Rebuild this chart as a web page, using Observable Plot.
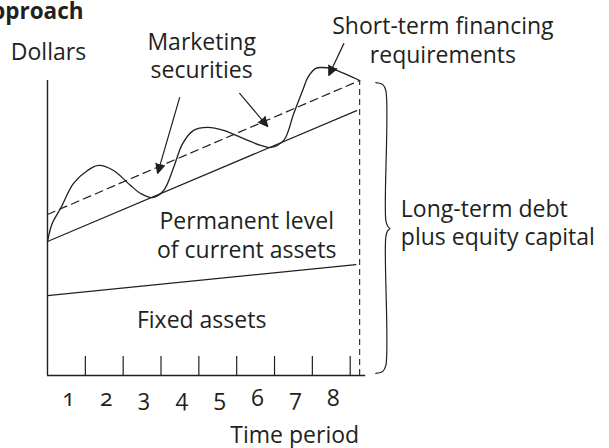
<!DOCTYPE html>
<html>
<head>
<meta charset="utf-8">
<script src="https://cdn.jsdelivr.net/npm/d3@7"></script>
<script src="https://cdn.jsdelivr.net/npm/@observablehq/plot@0.6"></script>
<style>
  html, body { margin: 0; padding: 0; background: white; }
  #chart svg text { font-variant-numeric: oldstyle-nums; font-feature-settings: "onum" 1; }
</style>
</head>
<body>
<div id="chart"></div>
<script>
// ---- data (time period on x, dollars on y, arbitrary units) ----
const periods = [1, 2, 3, 4, 5, 6, 7, 8];
const periodLabels = ["1", "2", "3", "4", "5", "6", "7", "8"];

// fixed assets level (start, end)
const fixedAssets = [{t: 0, v: 27.1}, {t: 8.15, v: 37.6}];
// permanent level of current assets + fixed assets
const permanentAssets = [{t: 0, v: 45.4}, {t: 8.17, v: 89.8}];
// long-term debt plus equity capital level (dashed)
const longTermFinancing = [{t: 0, v: 54.6}, {t: 8.25, v: 100}];
// total asset requirement (wavy curve)
const totalAssetsT = [0, 0.124, 0.344, 0.688, 1.058, 1.349, 1.746, 2.196, 2.46, 2.778, 3.069, 3.333, 3.571, 3.862, 4.233, 4.656, 5.185, 5.635, 5.899, 6.243, 6.508, 6.772, 6.878, 7.09, 7.275, 7.487, 8.25];
const totalAssetsV = [45.4, 51.5, 56.6, 65.1, 69.5, 71.2, 69.5, 64.4, 61.7, 60.3, 62.7, 70.5, 78.6, 83.1, 84.1, 83.1, 80.3, 78.0, 77.3, 79.7, 88.8, 97.6, 101.0, 104.1, 104.4, 104.1, 100];
const horizonEnd = 8.25;
const axisEnd = 8.41;
const yTop = 100;

// ---- annotation layout (data units) ----
const arrows = [
  {x1: 3.492, y1: 94.2, x2: 2.910, y2: 68.5},
  {x1: 5.079, y1: 95.6, x2: 5.820, y2: 84.4},
  {x1: 7.831, y1: 112.5, x2: 7.434, y2: 101.7}
];
const brace = [
  [8.677, 99.3], [8.862, 98.6], [8.942, 96.6], [8.942, 52.5], [8.995, 50.5], [9.048, 49.8],
  [8.995, 49.2], [8.942, 47.1], [8.942, 3.4], [8.862, 1.4], [8.677, 0.7]
].map(([t, v]) => ({t, v}));
const labels = [
  {t: 0.026, v: 106.8, text: "Dollars", anchor: "middle"},
  {t: 4.074, v: 100.7, text: "Marketing\nsecurities", anchor: "middle"},
  {t: 10.45, v: 106.1, text: "Short-term financing\nrequirements", anchor: "middle"},
  {t: 9.339, v: 44.07, text: "Long-term debt\nplus equity capital", anchor: "start"},
  {t: 5.265, v: 40.0, text: "Permanent level\nof current assets", anchor: "middle"},
  {t: 4.074, v: 16.27, text: "Fixed assets", anchor: "middle"},
  {t: 6.534, v: -23.0, text: "Time period", anchor: "middle"}
];

const curve = totalAssetsT.map((t, i) => ({t, v: totalAssetsV[i]}));
const ink = "#231f20";

const chart = Plot.plot({
  width: 609,
  height: 448,
  margin: 0,
  x: {domain: [0, 8], range: [47, 349.7], axis: null},
  y: {domain: [0, 100], range: [375, 80], axis: null},
  style: {fontFamily: "'Open Sans', sans-serif", fontSize: "23px", color: ink, background: "white", overflow: "visible"},
  marks: [
    // axes
    Plot.ruleX([0], {y1: 0, y2: yTop, stroke: ink, strokeWidth: 1.4}),
    Plot.ruleY([0], {x1: 0, x2: axisEnd, stroke: ink, strokeWidth: 1.4}),
    Plot.ruleX(periods, {y1: 0, y2: 6.4, stroke: ink, strokeWidth: 1.2}),
    Plot.text(periods, {x: d => d - 0.5, y: -10.5, text: (d, i) => periodLabels[i], lineAnchor: "bottom", dx: 2, fill: ink}),
    // horizon
    Plot.ruleX([horizonEnd], {y1: 0, y2: yTop, stroke: ink, strokeWidth: 1.1, strokeDasharray: "6,4"}),
    // levels
    Plot.line(fixedAssets, {x: "t", y: "v", stroke: ink, strokeWidth: 1.2}),
    Plot.line(permanentAssets, {x: "t", y: "v", stroke: ink, strokeWidth: 1.2}),
    Plot.line(longTermFinancing, {x: "t", y: "v", stroke: ink, strokeWidth: 1.2, strokeDasharray: "8,5"}),
    Plot.line(curve, {x: "t", y: "v", stroke: ink, strokeWidth: 1.3, curve: "catmull-rom", clip: false}),
    // arrows
    Plot.arrow(arrows, {x1: "x1", y1: "y1", x2: "x2", y2: "y2", stroke: ink, fill: ink, strokeWidth: 1.2, headLength: 13, headAngle: 50, strokeLinejoin: "miter"}),
    // brace
    Plot.line(brace, {x: "t", y: "v", stroke: ink, strokeWidth: 1.2, curve: "catmull-rom"}),
    // labels
    Plot.text(labels.filter(d => d.anchor === "middle"), {x: "t", y: "v", text: "text", textAnchor: "middle", lineAnchor: "bottom", lineHeight: 1.24, fill: ink}),
    Plot.text(labels.filter(d => d.anchor === "start"), {x: "t", y: "v", text: "text", textAnchor: "start", lineAnchor: "bottom", lineHeight: 1.22, fill: ink}),
    // clipped title
    Plot.text(["Aggressive Approach"], {x: 0.952, y: 121.0, text: d => d, textAnchor: "end", lineAnchor: "bottom", fontWeight: "bold", fontSize: 22.5, fill: ink})
  ]
});
document.getElementById("chart").appendChild(chart);
</script>
</body>
</html>
